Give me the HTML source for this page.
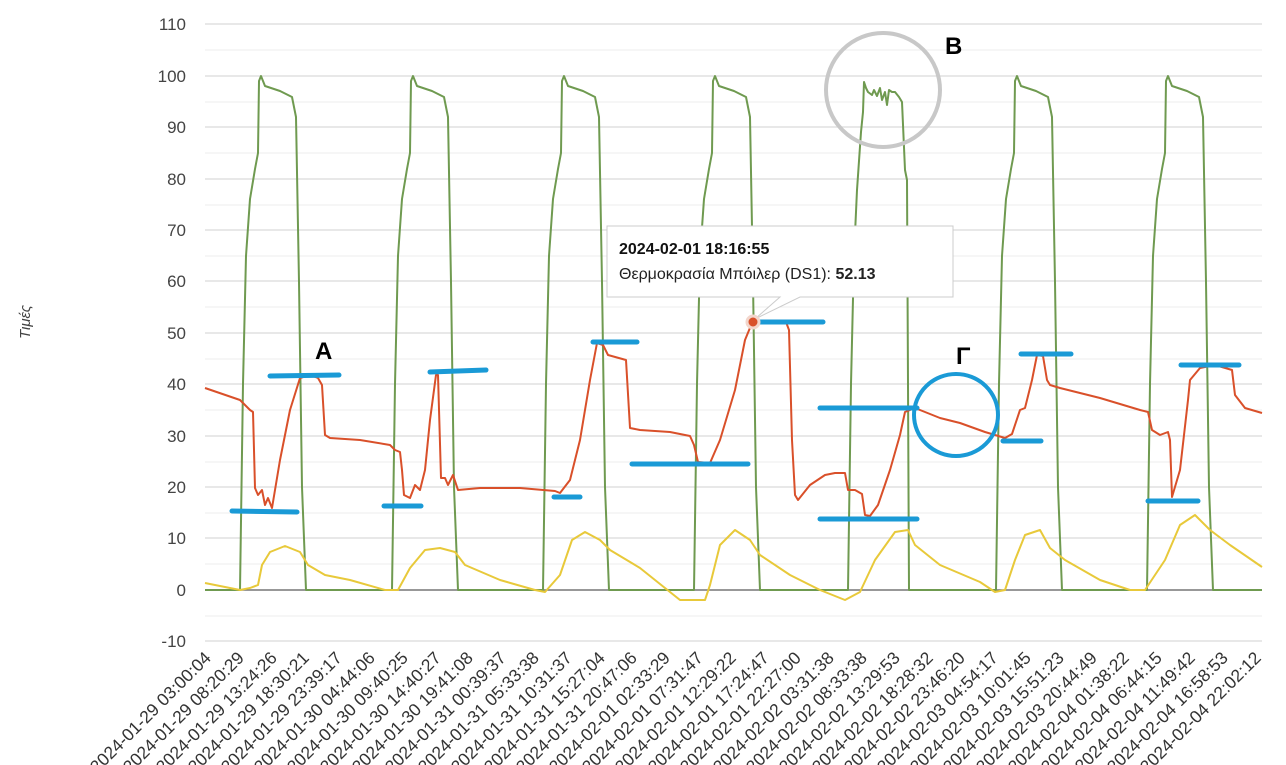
<!DOCTYPE html>
<html><head><meta charset="utf-8"><style>
html,body{margin:0;padding:0;background:#fff;overflow:hidden;}
svg{display:block;font-family:"Liberation Sans",sans-serif;}
</style></head><body>
<svg width="1286" height="765" viewBox="0 0 1286 765" xmlns="http://www.w3.org/2000/svg">
<g stroke="#ececec" stroke-width="1">
<line x1="205" x2="1262" y1="50" y2="50"/><line x1="205" x2="1262" y1="102" y2="102"/><line x1="205" x2="1262" y1="153" y2="153"/><line x1="205" x2="1262" y1="205" y2="205"/><line x1="205" x2="1262" y1="256" y2="256"/><line x1="205" x2="1262" y1="307" y2="307"/><line x1="205" x2="1262" y1="359" y2="359"/><line x1="205" x2="1262" y1="410" y2="410"/><line x1="205" x2="1262" y1="462" y2="462"/><line x1="205" x2="1262" y1="513" y2="513"/><line x1="205" x2="1262" y1="564" y2="564"/><line x1="205" x2="1262" y1="616" y2="616"/>
</g>
<g stroke="#d9d9d9" stroke-width="1.3">
<line x1="205" x2="1262" y1="24" y2="24"/><line x1="205" x2="1262" y1="76" y2="76"/><line x1="205" x2="1262" y1="127" y2="127"/><line x1="205" x2="1262" y1="179" y2="179"/><line x1="205" x2="1262" y1="230" y2="230"/><line x1="205" x2="1262" y1="281" y2="281"/><line x1="205" x2="1262" y1="333" y2="333"/><line x1="205" x2="1262" y1="384" y2="384"/><line x1="205" x2="1262" y1="436" y2="436"/><line x1="205" x2="1262" y1="487" y2="487"/><line x1="205" x2="1262" y1="538" y2="538"/><line x1="205" x2="1262" y1="641" y2="641"/>
</g>
<line x1="205" x2="1262" y1="590" y2="590" stroke="#777" stroke-width="1.5"/>
<g font-size="17" fill="#444" text-anchor="end">
<text x="186" y="30">110</text><text x="186" y="82">100</text><text x="186" y="133">90</text><text x="186" y="185">80</text><text x="186" y="236">70</text><text x="186" y="287">60</text><text x="186" y="339">50</text><text x="186" y="390">40</text><text x="186" y="442">30</text><text x="186" y="493">20</text><text x="186" y="544">10</text><text x="186" y="596">0</text><text x="186" y="647">-10</text>
</g>
<text transform="translate(30,322) rotate(-90)" font-size="15" font-style="italic" fill="#444" text-anchor="middle">Τιμές</text>
<g font-size="17.5" fill="#333" text-anchor="end">
<text transform="translate(212,659) rotate(-45)">2024-01-29 03:00:04</text>
<text transform="translate(245,659) rotate(-45)">2024-01-29 08:20:29</text>
<text transform="translate(278,659) rotate(-45)">2024-01-29 13:24:26</text>
<text transform="translate(310,659) rotate(-45)">2024-01-29 18:30:21</text>
<text transform="translate(343,659) rotate(-45)">2024-01-29 23:39:17</text>
<text transform="translate(376,659) rotate(-45)">2024-01-30 04:44:06</text>
<text transform="translate(409,659) rotate(-45)">2024-01-30 09:40:25</text>
<text transform="translate(442,659) rotate(-45)">2024-01-30 14:40:27</text>
<text transform="translate(474,659) rotate(-45)">2024-01-30 19:41:08</text>
<text transform="translate(507,659) rotate(-45)">2024-01-31 00:39:37</text>
<text transform="translate(540,659) rotate(-45)">2024-01-31 05:33:38</text>
<text transform="translate(573,659) rotate(-45)">2024-01-31 10:31:37</text>
<text transform="translate(606,659) rotate(-45)">2024-01-31 15:27:04</text>
<text transform="translate(638,659) rotate(-45)">2024-01-31 20:47:06</text>
<text transform="translate(671,659) rotate(-45)">2024-02-01 02:33:29</text>
<text transform="translate(704,659) rotate(-45)">2024-02-01 07:31:47</text>
<text transform="translate(737,659) rotate(-45)">2024-02-01 12:29:22</text>
<text transform="translate(770,659) rotate(-45)">2024-02-01 17:24:47</text>
<text transform="translate(802,659) rotate(-45)">2024-02-01 22:27:00</text>
<text transform="translate(835,659) rotate(-45)">2024-02-02 03:31:38</text>
<text transform="translate(868,659) rotate(-45)">2024-02-02 08:33:38</text>
<text transform="translate(901,659) rotate(-45)">2024-02-02 13:29:53</text>
<text transform="translate(934,659) rotate(-45)">2024-02-02 18:28:32</text>
<text transform="translate(966,659) rotate(-45)">2024-02-02 23:46:20</text>
<text transform="translate(999,659) rotate(-45)">2024-02-03 04:54:17</text>
<text transform="translate(1032,659) rotate(-45)">2024-02-03 10:01:45</text>
<text transform="translate(1065,659) rotate(-45)">2024-02-03 15:51:23</text>
<text transform="translate(1098,659) rotate(-45)">2024-02-03 20:44:49</text>
<text transform="translate(1130,659) rotate(-45)">2024-02-04 01:38:22</text>
<text transform="translate(1163,659) rotate(-45)">2024-02-04 06:44:15</text>
<text transform="translate(1196,659) rotate(-45)">2024-02-04 11:49:42</text>
<text transform="translate(1229,659) rotate(-45)">2024-02-04 16:58:53</text>
<text transform="translate(1262,659) rotate(-45)">2024-02-04 22:02:12</text>
</g>
<!-- green -->
<polyline fill="none" stroke="#6f9a50" stroke-width="2" stroke-linejoin="round" points="205,590 240,590 243,384 246,256 250,199 255,169 258,153 259,81 261,76 265,86 280,91 292,97 296,117 299,282 302,487 306,590 392,590 395,384 398,256 402,199 407,169 410,153 411,81 413,76 417,86 432,91 444,97 448,117 451,282 454,487 458,590 543,590 546,384 549,256 553,199 558,169 561,153 562,81 564,76 568,86 583,91 595,97 599,117 602,282 605,487 609,590 694,590 697,384 700,256 704,199 709,169 712,153 713,81 715,76 719,86 734,91 746,97 750,117 753,282 756,487 760,590 848,590 851,384 854,256 857,190 861,132 863,112 864,82 866,88 868,92 872,95 874,90 877,96 880,88 882,100 885,92 887,105 889,90 892,92 895,92 899,97 902,102 905,170 907,180 909,590 996,590 999,384 1002,256 1006,199 1011,169 1014,153 1015,81 1017,76 1021,86 1036,91 1048,97 1052,117 1055,282 1058,487 1062,590 1147,590 1150,384 1153,256 1157,199 1162,169 1165,153 1166,81 1168,76 1172,86 1187,91 1199,97 1203,117 1206,282 1209,487 1213,590 1262,590"/>
<!-- yellow -->
<polyline fill="none" stroke="#e8c93a" stroke-width="2" stroke-linejoin="round" points="205,583 225,587 240,590 250,588 258,585 262,565 270,552 285,546 300,552 308,565 325,575 350,580 385,590 398,590 410,568 425,550 440,548 455,552 465,565 500,580 535,590 545,592 560,575 572,540 585,532 600,540 610,550 640,568 680,600 705,600 710,585 720,545 735,530 750,540 760,555 790,575 820,590 845,600 860,592 875,560 895,532 908,530 915,545 940,565 980,582 995,592 1005,590 1015,560 1025,535 1040,530 1050,548 1065,560 1100,580 1130,590 1145,590 1165,560 1180,525 1195,515 1210,530 1230,545 1262,567"/>
<!-- red -->
<polyline fill="none" stroke="#d9502a" stroke-width="2" stroke-linejoin="round" points="205,388 240,400 250,410 253,412 255,488 258,495 262,490 265,505 268,498 272,508 280,460 290,410 300,378 310,375 318,378 322,385 325,435 330,438 360,440 390,445 395,450 400,452 402,470 404,495 410,498 415,485 420,490 425,470 430,420 436,375 438,375 441,478 445,478 448,485 453,475 458,490 480,488 520,488 555,491 560,493 570,480 580,440 590,380 597,343 603,345 608,355 626,360 630,428 640,430 670,432 690,436 694,445 698,462 710,463 720,440 735,390 745,340 752,323 758,322 786,322 789,330 792,440 795,495 798,500 810,485 825,475 835,473 845,473 848,490 855,490 862,494 865,515 870,516 878,505 890,470 900,435 905,412 915,408 940,418 960,423 985,432 995,435 1005,438 1012,434 1020,410 1025,408 1032,380 1037,355 1043,356 1047,380 1050,385 1060,388 1100,398 1140,410 1148,412 1152,430 1160,435 1168,432 1170,440 1172,497 1180,470 1188,400 1190,380 1200,368 1215,365 1232,370 1235,395 1245,408 1262,413"/>
<!-- blue annotations -->
<g stroke="#1a9ad6" stroke-width="5" stroke-linecap="round">
<line x1="232" y1="511" x2="297" y2="512"/><line x1="270" y1="376" x2="339" y2="375"/>
<line x1="384" y1="506" x2="421" y2="506"/><line x1="430" y1="372" x2="486" y2="370"/>
<line x1="554" y1="497" x2="580" y2="497"/><line x1="593" y1="342" x2="637" y2="342"/>
<line x1="632" y1="464" x2="748" y2="464"/><line x1="752" y1="322" x2="823" y2="322"/>
<line x1="820" y1="408" x2="917" y2="408"/><line x1="820" y1="519" x2="917" y2="519"/>
<line x1="1003" y1="441" x2="1041" y2="441"/><line x1="1021" y1="354" x2="1071" y2="354"/>
<line x1="1148" y1="501" x2="1198" y2="501"/><line x1="1181" y1="365" x2="1239" y2="365"/>
</g>
<ellipse cx="956" cy="415" rx="42" ry="41" fill="none" stroke="#1a9ad6" stroke-width="4"/>
<circle cx="883" cy="90" r="57" fill="none" stroke="#c8c8c8" stroke-width="4"/>
<g font-size="24" font-weight="bold" fill="#000">
<text x="315" y="359">A</text><text x="945" y="54">B</text><text x="956" y="364">Γ</text>
</g>
<!-- tooltip -->
<path d="M607,226 H953 V297 H800 L755,319 L780,297 H607 Z" fill="#fff" stroke="#cccccc" stroke-width="1"/>
<text x="619" y="254" font-size="16" font-weight="bold" fill="#111">2024-02-01 18:16:55</text>
<text x="619" y="279" font-size="16" fill="#222">Θερμοκρασία Μπόιλερ (DS1): <tspan font-weight="bold">52.13</tspan></text>
<circle cx="753" cy="322" r="6" fill="#d9502a" stroke="#f3d6cc" stroke-width="3"/>
</svg>
</body></html>
